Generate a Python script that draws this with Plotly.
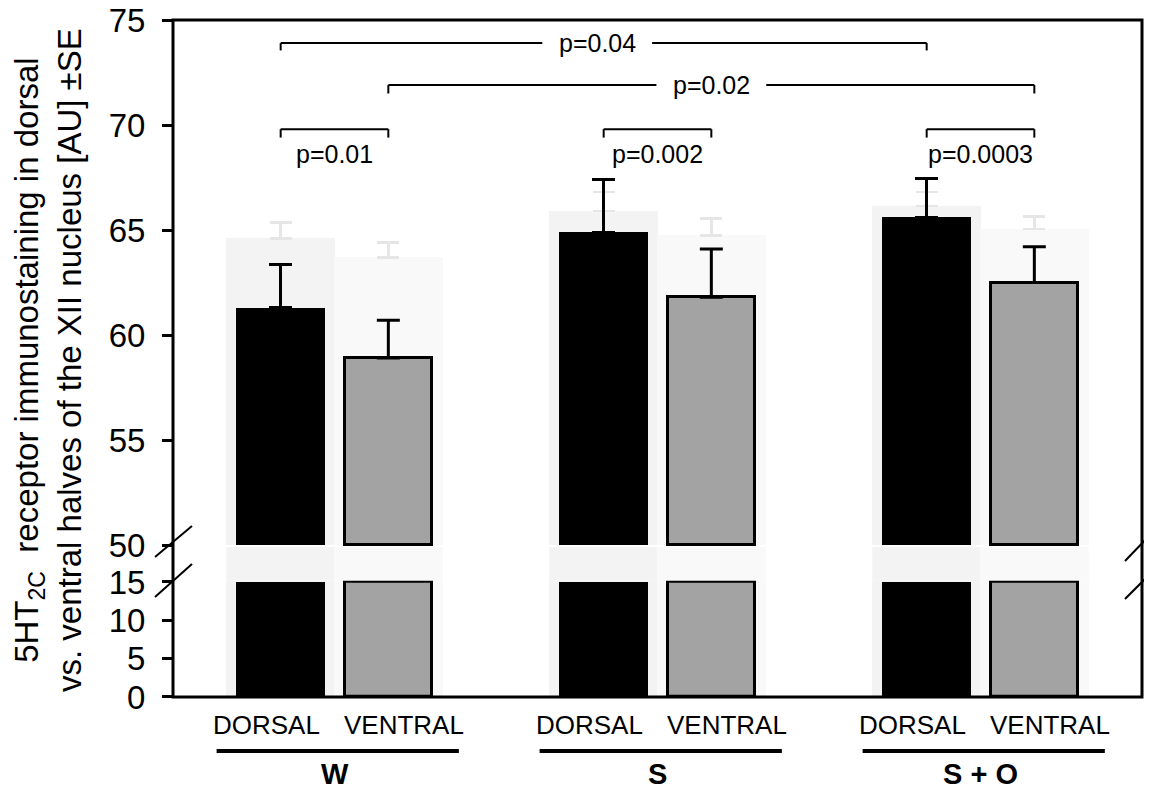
import plotly.graph_objects as go
import numpy as np

# ---------------- data ----------------
groups = ["W", "S", "S + O"]
regions = ["DORSAL", "VENTRAL"]
dorsal_mean = [61.3, 64.9, 65.6]
dorsal_se = [2.05, 2.5, 1.85]
ventral_mean = [58.9, 61.8, 62.5]
ventral_se = [1.8, 2.3, 1.7]
# faint background (ghost) bars visible in the reference
ghost_dorsal_mean = [64.6, 65.9, 66.15]
ghost_dorsal_se = [0.75, 0.9, 0.65]
ghost_ventral_mean = [63.7, 64.75, 65.05]
ghost_ventral_se = [0.7, 0.8, 0.6]
y_upper_ticks = [50, 55, 60, 65, 70, 75]
y_lower_ticks = [0, 5, 10, 15]
comparisons = [  # (group_a, region_a, group_b, region_b, label, level)
    (0, 0, 2, 0, "p=0.04", "top"),
    (0, 1, 2, 1, "p=0.02", "mid"),
    (0, 0, 0, 1, "p=0.01", "low"),
    (1, 0, 1, 1, "p=0.002", "low"),
    (2, 0, 2, 1, "p=0.0003", "low"),
]

# ---------------- layout constants ----------------
PAGE_OFF = 8                     # default body margin of the html page
W, H = 1152 - PAGE_OFF, 794 - PAGE_OFF
PL, PR, PT, PB = 173, 1142, 20, 697   # plot area in page pixels
ML, MT = PL - PAGE_OFF, PT - PAGE_OFF
MR = W - (PR - PAGE_OFF)
MB = H - (PB - PAGE_OFF)
PW, PH = PR - PL, PB - PT
FONT = "Liberation Sans, Arial, sans-serif"

def py2paper(py):
    return (PB - py) / PH

def px2paper(px):
    return (px - PL) / PW

upper_range = [49.9, 75]
lower_range = [0, 15.15]
upper_dom = [py2paper(545 + 0.1 * 21), 1.0]
lower_dom = [0.0, py2paper(582 - 0.15 * 7.67)]
BREAK_LOW, BREAK_HIGH = 15, 50

off = 1 / 6
bw = 0.2755
gw = 0.337
gx = np.arange(len(groups))
xd = gx - off
xv = gx + off
xpos = [xd, xv]

fig = go.Figure()

def add_bars(xs, vals, errs, color, line_w, width, errcolor, errthick, capw):
    vals = np.array(vals)
    fig.add_trace(go.Bar(
        x=xs, y=vals - BREAK_HIGH, base=BREAK_HIGH, width=width,
        marker=dict(color=color, line=dict(color="black", width=line_w)),
        error_y=dict(type="data", array=errs, arrayminus=[0] * len(errs), symmetric=False,
                     color=errcolor, thickness=errthick, width=capw),
        xaxis="x", yaxis="y2", showlegend=False, hoverinfo="skip"))
    fig.add_trace(go.Bar(
        x=xs, y=np.minimum(vals, BREAK_LOW), width=width,
        marker=dict(color=color, line=dict(color="black", width=line_w)),
        xaxis="x", yaxis="y", showlegend=False, hoverinfo="skip"))

def add_ghost(xs, vals, errs, color):
    vals = np.array(vals)
    fig.add_trace(go.Bar(
        x=xs, y=vals - BREAK_HIGH, base=BREAK_HIGH, width=gw,
        marker=dict(color=color, line=dict(width=0)),
        error_y=dict(type="data", array=errs, arrayminus=[0] * len(errs), symmetric=False,
                     color="#e6e6e6", thickness=2.5, width=11),
        xaxis="x", yaxis="y2", showlegend=False, hoverinfo="skip"))
    fig.add_trace(go.Bar(
        x=xs, y=np.minimum(vals, lower_range[1]), width=gw,
        marker=dict(color=color, line=dict(width=0)),
        xaxis="x", yaxis="y", showlegend=False, hoverinfo="skip"))
    for x in xs:
        fig.add_shape(type="rect", xref="x", yref="paper", x0=x - gw / 2, x1=x + gw / 2,
                      y0=lower_dom[1], y1=upper_dom[0], fillcolor=color,
                      line=dict(width=0), layer="below")

add_ghost(xd, ghost_dorsal_mean, ghost_dorsal_se, "#f3f3f3")
add_ghost(xv, ghost_ventral_mean, ghost_ventral_se, "#f9f9f9")
add_bars(xd, dorsal_mean, dorsal_se, "black", 0, bw, "black", 3, 11.5)
add_bars(xv, ventral_mean, ventral_se, "#a3a3a3", 3, bw - 0.008, "black", 3, 11.5)

# frame
fig.add_shape(type="rect", xref="paper", yref="paper", x0=0, x1=1, y0=0, y1=1,
              line=dict(color="black", width=3))

# axis break marks
for (xa, ya, xb, yb) in [(155, 557, 192, 526), (155, 597, 192, 564),
                         (1125, 561, 1152, 533), (1125, 599, 1152, 572)]:
    fig.add_shape(type="line", xref="paper", yref="paper",
                  x0=px2paper(xa), y0=py2paper(ya), x1=px2paper(xb), y1=py2paper(yb),
                  line=dict(color="black", width=2))

# significance brackets
levels = {"top": (73.9, 73.55), "mid": (71.9, 71.5), "low": (69.8, 69.4)}
gap_half = 0.17
PFONT = dict(family=FONT, size=25, color="black")
for ga, ra, gb, rb, lab, lev in comparisons:
    x1 = xpos[ra][ga]
    x2 = xpos[rb][gb]
    yl, yt = levels[lev]
    lw = 2
    fig.add_shape(type="line", xref="x", yref="y2", x0=x1, x1=x1, y0=yt, y1=yl,
                  line=dict(color="black", width=lw))
    fig.add_shape(type="line", xref="x", yref="y2", x0=x2, x1=x2, y0=yt, y1=yl,
                  line=dict(color="black", width=lw))
    if lev == "low":
        fig.add_shape(type="line", xref="x", yref="y2", x0=x1, x1=x2, y0=yl, y1=yl,
                      line=dict(color="black", width=lw))
        fig.add_annotation(x=(x1 + x2) / 2, y=68.6, xref="x", yref="y2", text=lab,
                           showarrow=False, font=PFONT, xanchor="center", yanchor="middle")
    else:
        xm = (x1 + x2) / 2 - (0.02 if lev == "top" else 0)
        fig.add_shape(type="line", xref="x", yref="y2", x0=x1, x1=xm - gap_half, y0=yl, y1=yl,
                      line=dict(color="black", width=lw))
        fig.add_shape(type="line", xref="x", yref="y2", x0=xm + gap_half, x1=x2, y0=yl, y1=yl,
                      line=dict(color="black", width=lw))
        fig.add_annotation(x=xm, y=yl, xref="x", yref="y2", text=lab,
                           showarrow=False, font=PFONT, xanchor="center", yanchor="middle")

# category labels under axis
for i, g in enumerate(groups):
    for r, reg in enumerate(regions):
        fig.add_annotation(x=gx[i] + (-0.212 if r == 0 else 0.215), y=py2paper(725),
                           xref="x", yref="paper", text=reg, showarrow=False,
                           xanchor="center", yanchor="middle",
                           font=dict(family=FONT, size=26, color="black"))
    fig.add_shape(type="line", xref="x", yref="paper", x0=gx[i] - 0.365, x1=gx[i] + 0.385,
                  y0=py2paper(751), y1=py2paper(751), line=dict(color="black", width=4))
    fig.add_annotation(x=gx[i], y=py2paper(774), xref="x", yref="paper",
                       text="<b>%s</b>" % g, showarrow=False, xanchor="center", yanchor="middle",
                       font=dict(family=FONT, size=29, color="black"))

# y-axis title
fig.add_annotation(
    x=px2paper(48), y=py2paper(360), xref="paper", yref="paper", textangle=-90,
    xanchor="center", yanchor="middle",
    text="5HT<sub>2C</sub>  receptor immunostaining in dorsal<br>vs. ventral halves of the XII nucleus [AU] \u00b1SE",
    showarrow=False, font=dict(family=FONT, size=33, color="black"))

axis_common = dict(showgrid=False, zeroline=False, showline=False, ticks="outside",
                   ticklen=10, tickwidth=3, tickcolor="black", automargin=False,
                   ticklabeloverflow="allow",
                   tickfont=dict(family=FONT, size=33, color="black"), ticklabelstandoff=10)

fig.update_layout(
    width=W, height=H, margin=dict(l=ML, r=MR, t=MT, b=MB, autoexpand=False),
    paper_bgcolor="white", plot_bgcolor="white", barmode="overlay", bargap=0,
    xaxis=dict(range=[-0.5, 2.5], showticklabels=False, ticks="", showgrid=False,
               zeroline=False, showline=False, automargin=False),
    yaxis=dict(domain=lower_dom, range=lower_range, tickvals=y_lower_ticks, **axis_common),
    yaxis2=dict(domain=upper_dom, range=upper_range, tickvals=y_upper_ticks, anchor="x",
                **axis_common),
)

fig.write_html("out.html")
